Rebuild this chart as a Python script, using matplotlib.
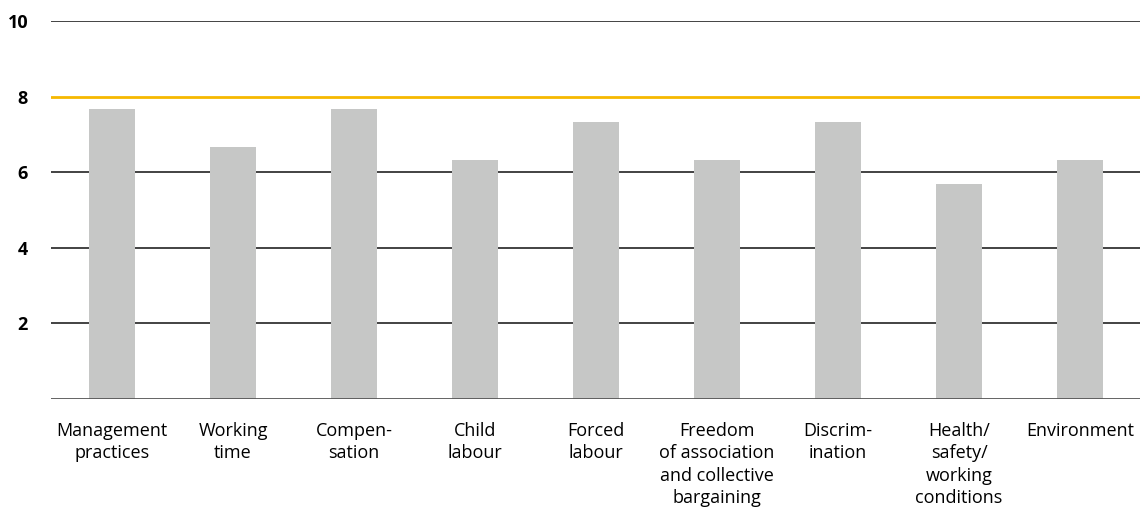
import matplotlib
matplotlib.use("Agg")
import matplotlib.pyplot as plt

categories = ["Management\npractices", "Working\ntime", "Compen-\nsation", "Child\nlabour",
              "Forced\nlabour", "Freedom\nof association\nand collective\nbargaining",
              "Discrim-\nination", "Health/\nsafety/\nworking\nconditions", "Environment"]
values = [7.67, 6.67, 7.67, 6.33, 7.33, 6.33, 7.33, 5.67, 6.33]
yticks = [2, 4, 6, 8, 10]
target = 8

plt.rcParams['font.family'] = ['Open Sans', 'DejaVu Sans']

fig = plt.figure(figsize=(11.45, 5.11), dpi=100)
ax = fig.add_axes([51/1145, 1-398.5/511, (1140-51)/1145, (398.5-21)/511])

x = list(range(len(categories)))
ax.bar(x, values, width=0.38, color="#c6c7c6", zorder=2)

for t in yticks:
    if t == target:
        ax.axhline(t, color="#f6b800", lw=2, zorder=1)
    else:
        ax.axhline(t, color="#222222", lw=1.2, zorder=1)
ax.axhline(0, color="#555555", lw=2, zorder=3)

ax.set_xlim(-0.505, 8.495)
ax.set_ylim(0, 10)
ax.set_yticks(yticks)
ax.set_yticklabels([str(t) for t in yticks], fontweight="bold", fontsize=13)
ax.set_xticks(x)
ax.set_xticklabels(categories, fontsize=13, linespacing=1.3, va="top")
ax.tick_params(axis="both", length=0)
ax.tick_params(axis="y", pad=16.5)
ax.tick_params(axis="x", pad=17)
for s in ax.spines.values():
    s.set_visible(False)

fig.savefig("out.png", dpi=100)
